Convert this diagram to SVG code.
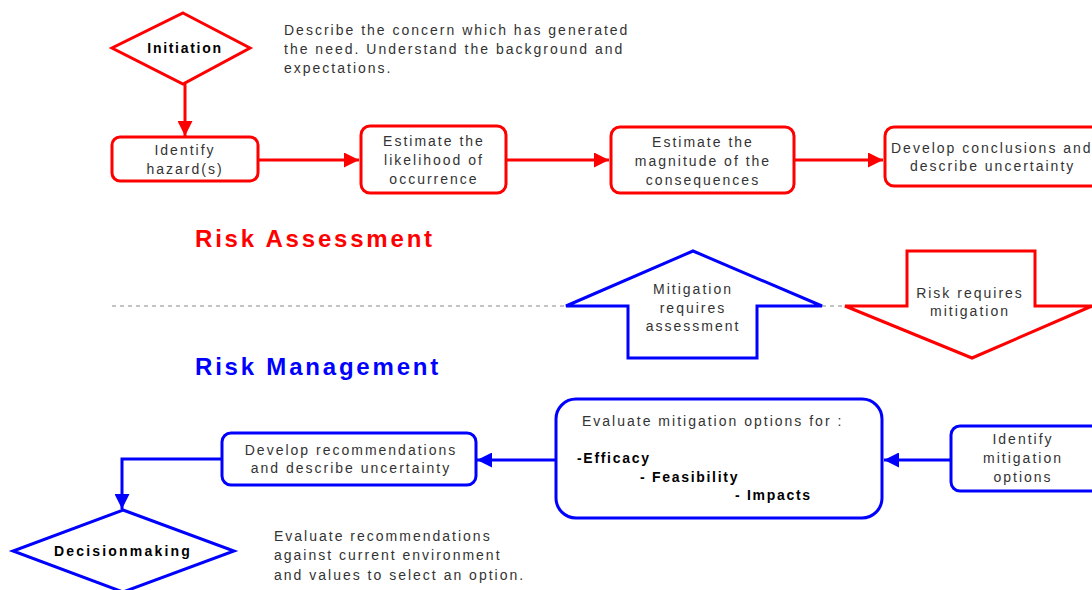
<svg xmlns="http://www.w3.org/2000/svg" width="1092" height="590" viewBox="0 0 1092 590">
<defs>
<marker id="ar" viewBox="0 0 10 10" refX="10" refY="5" markerWidth="5.3" markerHeight="5" orient="auto" markerUnits="strokeWidth"><path d="M0,0 L10,5 L0,10 z" fill="#ff0000"/></marker>
<marker id="ab" viewBox="0 0 10 10" refX="10" refY="5" markerWidth="5.3" markerHeight="5" orient="auto" markerUnits="strokeWidth"><path d="M0,0 L10,5 L0,10 z" fill="#0000ff"/></marker>
</defs>
<style>
.r{fill:#fff;stroke:#ff0000;stroke-width:3}
.b{fill:#fff;stroke:#0000ff;stroke-width:3}
.cr{fill:none;stroke:#ff0000;stroke-width:3}
.cb{fill:none;stroke:#0000ff;stroke-width:3}
text{font-family:"Liberation Sans",Arial,sans-serif;fill:#333}
.t{font-size:14px;letter-spacing:2px}
.c{text-anchor:middle}
.bd{font-weight:bold;font-size:14px;letter-spacing:1.7px;fill:#000}
.h{font-weight:bold;font-size:24px;letter-spacing:2.8px}
</style>
<rect width="1092" height="590" fill="#fff"/>
<g id="connectors">
<path class="cr" d="M185,84 V136" marker-end="url(#ar)"/>
<path class="cr" d="M258,160 H359" marker-end="url(#ar)"/>
<path class="cr" d="M506,160 H609" marker-end="url(#ar)"/>
<path class="cr" d="M794,160 H883" marker-end="url(#ar)"/>
<path class="cb" d="M951,460 H884" marker-end="url(#ab)"/>
<path class="cb" d="M556,460 H477" marker-end="url(#ab)"/>
<path class="cb" d="M222,459 H122 V509" marker-end="url(#ab)"/>
<path d="M112,306 H566 M822,306 H845" fill="none" stroke="#888" stroke-width="1" stroke-dasharray="4,4"/>
</g>
<g id="initiation">
<polygon class="r" points="183,13 250,48 183,84 112,48"/>
<text class="bd c" x="185" y="53">Initiation</text>
</g>
<g id="initiation-note">
<text class="t" x="284" y="35">Describe the concern which has generated</text>
<text class="t" x="284" y="54">the need.  Understand the background and</text>
<text class="t" x="284" y="73">expectations.</text>
</g>
<g id="identify-hazards">
<rect class="r" x="112" y="137" width="146" height="44" rx="8"/>
<text class="t c" x="185" y="155">Identify</text>
<text class="t c" x="185" y="174">hazard(s)</text>
</g>
<g id="estimate-likelihood">
<rect class="r" x="361" y="126" width="145" height="67" rx="9"/>
<text class="t c" x="434" y="146">Estimate the</text>
<text class="t c" x="434" y="165">likelihood of</text>
<text class="t c" x="434" y="184">occurrence</text>
</g>
<g id="estimate-magnitude">
<rect class="r" x="611" y="127" width="183" height="66" rx="9"/>
<text class="t c" x="703" y="147">Estimate the</text>
<text class="t c" x="703" y="166">magnitude of the</text>
<text class="t c" x="703" y="185">consequences</text>
</g>
<g id="develop-conclusions">
<rect class="r" x="885" y="127" width="215" height="59" rx="9"/>
<text class="t" x="891" y="153">Develop conclusions and</text>
<text class="t" x="910" y="171">describe uncertainty</text>
</g>
<g id="labels">
<text class="h" x="195" y="247" style="fill:#ff0000">Risk Assessment</text>
<text class="h" x="195" y="375" style="fill:#0000ff">Risk Management</text>
</g>
<g id="mitigation-requires-assessment">
<polygon class="b" points="693,251 822,306 757,306 757,358 628,358 628,306 566,306"/>
<text class="t c" x="693" y="294">Mitigation</text>
<text class="t c" x="693" y="313">requires</text>
<text class="t c" x="693" y="331">assessment</text>
</g>
<g id="risk-requires-mitigation">
<polygon class="r" points="907,251 1035,251 1035,306 1092,306 972,358 845,306 907,306"/>
<text class="t c" x="970" y="298">Risk requires</text>
<text class="t c" x="970" y="316">mitigation</text>
</g>
<g id="identify-mitigation">
<rect class="b" x="951" y="426" width="150" height="65" rx="9"/>
<text class="t c" x="1023" y="444">Identify</text>
<text class="t c" x="1023" y="463">mitigation</text>
<text class="t c" x="1023" y="482">options</text>
</g>
<g id="evaluate-mitigation">
<rect class="b" x="556" y="399" width="326" height="119" rx="20"/>
<text class="t" x="582" y="426">Evaluate mitigation options for :</text>
<text class="bd" x="577" y="463">-Efficacy</text>
<text class="bd" x="640" y="482">- Feasibility</text>
<text class="bd" x="735" y="500">- Impacts</text>
</g>
<g id="develop-recommendations">
<rect class="b" x="222" y="433" width="254" height="52" rx="9"/>
<text class="t c" x="351" y="455">Develop recommendations</text>
<text class="t c" x="351" y="473">and describe uncertainty</text>
</g>
<g id="decisionmaking">
<polygon class="b" points="123,510 234,551 123,592 13,551"/>
<text class="bd c" x="123" y="556" style="letter-spacing:2.2px">Decisionmaking</text>
</g>
<g id="decision-note">
<text class="t" x="274" y="541">Evaluate recommendations</text>
<text class="t" x="274" y="560">against current environment</text>
<text class="t" x="274" y="580">and values to select an option.</text>
</g>
</svg>
